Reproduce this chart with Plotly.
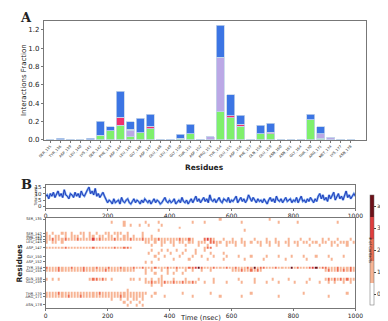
import plotly.graph_objects as go

# ---- panel A: interaction fractions per residue ----
residues = ['SER_135', 'TYR_136', 'ASP_139', 'LEU_140', 'LYS_141', 'SER_142', 'PHE_143',
            'ASP_144', 'LEU_145', 'GLY_146', 'ASP_147', 'GLU_148', 'LEU_149', 'GLY_150',
            'THR_151', 'ASP_152', 'PRO_153', 'TYR_154', 'GLU_155', 'ASP_156', 'PHE_157',
            'GLN_158', 'GLU_159', 'ASN_160', 'ASN_161', 'GLY_164', 'THR_170', 'ARG_171',
            'MET_174', 'LYS_177', 'ASN_178']

hbonds = [0, 0, 0, 0, 0, 0.05, 0.10, 0.16, 0.035, 0.08, 0.12, 0, 0, 0.02, 0.065, 0,
          0, 0.31, 0.24, 0.15, 0, 0.07, 0.068, 0, 0, 0, 0.22, 0.02, 0, 0, 0]
hydrophobic = [0, 0, 0, 0, 0, 0, 0, 0, 0.073, 0, 0, 0, 0, 0, 0, 0,
               0.035, 0.595, 0, 0, 0.01, 0, 0, 0.002, 0.002, 0.002, 0, 0.045, 0.03, 0.01, 0.002]
ionic = [0, 0, 0, 0, 0, 0, 0, 0.085, 0.01, 0, 0.03, 0, 0, 0, 0, 0,
         0, 0, 0.025, 0.02, 0, 0, 0.017, 0, 0, 0, 0, 0.005, 0, 0, 0]
water = [0.003, 0.02, 0.01, 0.002, 0.02, 0.155, 0.045, 0.285, 0.08, 0.155, 0.13, 0.01, 0.01,
         0.04, 0.105, 0.01, 0, 0.345, 0.23, 0.10, 0, 0.09, 0.095, 0, 0, 0, 0.06, 0.075, 0, 0, 0]

# ---- panel B: total contacts over time (every 5 ns) ----
time_tc = list(range(0, 1001, 5))
total_contacts = [8, 9, 6, 10, 8, 11, 7, 9, 12, 8, 10, 7, 13, 9, 8, 6, 10, 9, 7, 11,
                  8, 10, 7, 12, 9, 8, 11, 13, 15, 10, 12, 9, 14, 8, 10, 7, 9, 11, 8, 5,
                  3, 5, 4, 2, 6, 3, 4, 5, 2, 7, 4, 3, 5, 6, 3, 2, 4, 6, 3, 5,
                  4, 2, 5, 3, 6, 4, 3, 5, 2, 4, 6, 3, 5, 4, 2, 3, 5, 7, 4, 3,
                  5, 3, 4, 6, 2, 4, 5, 3, 7, 4, 3, 5, 2, 4, 6, 3, 5, 8, 4, 6,
                  3, 5, 7, 4, 6, 3, 9, 5, 4, 6, 3, 5, 7, 4, 3, 6, 5, 4, 7, 3,
                  5, 4, 6, 8, 3, 5, 7, 4, 6, 3, 5, 9, 6, 4, 7, 5, 3, 6, 4, 5,
                  3, 6, 4, 2, 5, 7, 4, 6, 3, 8, 5, 4, 6, 3, 5, 7, 4, 5, 6, 3,
                  5, 4, 7, 3, 6, 8, 4, 5, 3, 6, 4, 7, 5, 3, 6, 4, 8, 10, 6, 9,
                  5, 7, 4, 9, 6, 8, 11, 5, 7, 10, 6, 8, 5, 9, 12, 7, 9, 6, 8, 10, 8]

# contacts per residue, one char per 10 ns bin (100 bins)
contact_rows = [
    "0000000000 0000000000 0000000000 0000000000 0000000000 0000001000 0000000000 0010000000 0000000000 0000000000",
    "0000000000 0000000000 0100010000 0010001000 0000000100 0100000000 0001000000 0000010000 0100000000 0000100000",
    "0000000000 0000000000 0000010100 1001000100 0000000000 0000000000 0000000000 0000000000 0000000000 0000000000",
    "0000000000 0000000000 0000000000 0000000000 0001000000 0000000000 0000000000 0000000000 0000000000 0000000000",
    "0000000000 0000000000 0000000000 0000001000 0000000000 0000000000 0000100000 0000000000 0000000000 0000000000",
    "1010011010 0110101001 1011101000 0100000000 0000000000 0000000000 0000000000 0000000000 0000000000 0000000000",
    "1101101011 1010110110 1101011010 0100100000 0000000000 0000000000 0000000000 0000000000 0000000000 0000000000",
    "1121112111 2111131211 1121111211 1211112111 1112112100 0232100100 1001000100 0100100010 0010010001 0100100010",
    "1011010000 0000000000 0000000000 0011010110 1101101101 1102211011 1101101011 0110110110 1101101101 1011011101",
    "0000000000 0000000000 0000000000 0000100100 0100010001 0010010010 0100100001 0010010010 0100010010 0010100100",
    "1111112111 1111121111 1121122100 0000000000 0000000000 0122000000 0000000000 0000000000 0000000000 0000000000",
    "0000000000 0000000000 0000000000 0000100101 0010010010 0100000000 0000000000 0000000000 0000000000 0000000000",
    "0000000000 0000000000 0000000000 0001001000 1000100010 0001000100 0000000000 0000000000 0000000000 0000000000",
    "0000000000 0000000000 0000000000 0000010010 0001000100 1000100010 0010001000 0100010001 0001000100 0100001000",
    "0000000000 0000000000 0000000000 0000001000 0100001000 0010000100 0000100000 1000000100 0000100000 0010000000",
    "0000000000 0000000000 0000000000 0010100000 0000000000 0000000000 0000000000 0000000000 0000000000 0000000000",
    "0000000000 0000000000 0000000000 0000000000 0000000000 0000000000 0000000000 0000000000 0000000000 0000000000",
    "2111211121 1121112111 2111211121 1211121112 1121112234 2111211121 1211121412 2111211114 1211123412 2111211121",
    "1111211111 1121111112 1111111110 0010100101 0010010100 1001000000 1112112121 0000000000 0000000000 1211212121",
    "0000000000 0000000000 0000000000 0010010001 0100100000 0000000000 0000000000 0000000000 0000000000 0000000000",
    "0000000000 0000000000 0000000000 0000000100 0000000000 0000000000 0000000000 0000000000 0000000000 0000000000",
    "1010100000 0000122121 0100000110 1010101100 0100010001 0000100000 0010000100 0001000010 0000010000 1212121211",
    "0000000000 0000000000 0000000000 0011211121 1211211210 0100100010 0001000100 0100010000 1000100010 0101001010",
    "0000000000 0000000000 0000000000 0000100100 0000000000 0000000000 0000000000 0000000000 0000000000 0000000000",
    "0000000000 0000000000 0000000000 0000000000 0000000000 0000000000 0000000000 0000000000 0000000000 0000000000",
    "0000000000 0000000000 0000001000 0000000000 0000000000 0000000000 0000000000 0000000000 0000000000 0000000000",
    "1111211111 1111111211 1111111111 1110010000 0000100000 0001000000 0000001000 0000000000 0001000000 0000000100",
    "1111111211 1211111111 1111211111 1100100010 0000000100 0000001000 0001000000 0000010000 0000000000 0100000000",
    "0000000000 0000000000 0100101011 0100000000 0000000000 0000000000 0000000000 0000000000 0000000000 0000000000",
    "0000000000 0000000000 0000010100 1000000000 0000000000 0000000000 0000000000 0000000000 0000000000 0000000000",
    "0000000000 0000000000 0000001001 0100000000 0000000000 0000000000 0000000000 0000000000 0000000000 0000000000",
]
time_bins = [5 + 10 * i for i in range(100)]
labelled = ['SER_135', 'SER_142', 'PHE_143', 'ASP_144', 'LEU_145', 'ASP_147', 'GLY_150',
            'ASP_152', 'TYR_154', 'GLU_155', 'GLN_158', 'GLU_159', 'THR_170', 'ARG_171', 'ASN_178']

z = [[int(c) for c in row.replace(' ', '')] for row in contact_rows]

W, H = 388, 321
def px(x0, x1):
    return [x0 / W, x1 / W]
def py(top, bottom):
    return [1 - bottom / H, 1 - top / H]

fig = go.Figure()
edge = dict(color='#c3d5ea', width=0.8)
for vals, col, nm in [(hbonds, '#7ff06c', 'H-bonds'), (hydrophobic, '#bba8e6', 'Hydrophobic'),
                      (ionic, '#f0306e', 'Ionic'), (water, '#3c75e4', 'Water bridges')]:
    fig.add_trace(go.Bar(x=residues, y=vals, marker=dict(color=col, line=edge), width=0.8,
                         name=nm, xaxis='x', yaxis='y', showlegend=False))

fig.add_trace(go.Scatter(x=time_tc, y=total_contacts, mode='lines', xaxis='x2', yaxis='y2',
                         line=dict(color='#79a6ee', width=2.2), showlegend=False))
fig.add_trace(go.Scatter(x=time_tc, y=total_contacts, mode='lines', xaxis='x2', yaxis='y2',
                         line=dict(color='#1a34b4', width=0.9), showlegend=False))

cs = [[0, '#ffffff'], [0.2, '#ffffff'], [0.2, '#f7b494'], [0.4, '#f7b494'],
      [0.4, '#ee6e52'], [0.6, '#ee6e52'], [0.6, '#df3d3d'], [0.8, '#df3d3d'],
      [0.8, '#6e1018'], [1, '#6e1018']]
fig.add_trace(go.Heatmap(x=time_bins, y=list(range(len(residues))), z=z, xaxis='x3', yaxis='y3',
                         colorscale=cs, zmin=-0.5, zmax=4.5, showscale=True, xgap=1,
                         colorbar=dict(x=371.5 / W, xanchor='left', y=1 - 245 / H, yanchor='middle',
                                       len=132 / H, thickness=4, outlinewidth=0.5, outlinecolor='#666',
                                       tickvals=[0, 1, 2, 3, 4], ticktext=['0', '1', '2', '3', '≥4'],
                                       ticks='outside', ticklen=2, tickfont=dict(size=6, color='#333'))))

ax_common = dict(showline=True, mirror=True, linecolor='#777', linewidth=1, showgrid=False,
                 zeroline=False, ticks='outside', ticklen=2, tickcolor='#777')
fig.update_layout(
    width=W, height=H, margin=dict(l=0, r=0, t=0, b=0),
    paper_bgcolor='white', plot_bgcolor='white', barmode='stack', bargap=0.2,
    font=dict(family='DejaVu Sans', color='#222'),
    xaxis=dict(domain=px(33, 378), anchor='y', type='category', range=[-0.65, 31.5],
               tickangle=-45, tickfont=dict(size=3.6), **ax_common),
    yaxis=dict(domain=py(12, 133), anchor='x', range=[0, 1.3], tickvals=[0, 0.2, 0.4, 0.6, 0.8, 1.0, 1.2],
               tickformat='.1f', tickfont=dict(size=7), **ax_common),
    xaxis2=dict(domain=px(35, 367), anchor='y2', range=[0, 1000], tickvals=[0, 200, 400, 600, 800, 1000],
                tickfont=dict(size=6), **ax_common),
    yaxis2=dict(domain=py(179, 202), anchor='x2', range=[-1, 16.5], tickvals=[0, 5, 10, 15],
                tickfont=dict(size=5.5), **ax_common),
    xaxis3=dict(domain=px(35, 367), anchor='y3', range=[0, 1000], tickvals=[0, 200, 400, 600, 800, 1000],
                tickfont=dict(size=6), **ax_common),
    yaxis3=dict(domain=py(212, 304), anchor='x3', range=[31.2, -0.5],
                tickvals=[residues.index(r) for r in labelled], ticktext=labelled,
                tickfont=dict(size=3.6, color='#222'), **ax_common),
)

notes = [
    dict(x=14 / W, y=1 - 9 / H, text='<b>A</b>', font=dict(size=13, family='DejaVu Serif')),
    dict(x=14 / W, y=1 - 178 / H, text='<b>B</b>', font=dict(size=13, family='DejaVu Serif')),
    dict(x=205 / W, y=1 - 161 / H, text='<b>Residues</b>', font=dict(size=7.5)),
    dict(x=12 / W, y=1 - 72 / H, text='Interactions Fraction', font=dict(size=7), textangle=-90),
    dict(x=201 / W, y=1 - 313.5 / H, text='Time (nsec)', font=dict(size=6.8)),
    dict(x=7 / W, y=1 - 258 / H, text='<b>Residues</b>', font=dict(size=7.5), textangle=-90),
    dict(x=24 / W, y=1 - 190 / H, text='Total cont.', font=dict(size=3.8), textangle=-90),
    dict(x=384 / W, y=1 - 245 / H, text='# of Contacts', font=dict(size=3.8), textangle=90),
]
for n in notes:
    fig.add_annotation(xref='paper', yref='paper', showarrow=False, xanchor='center', yanchor='middle', **n)

fig.write_html("out.html")
